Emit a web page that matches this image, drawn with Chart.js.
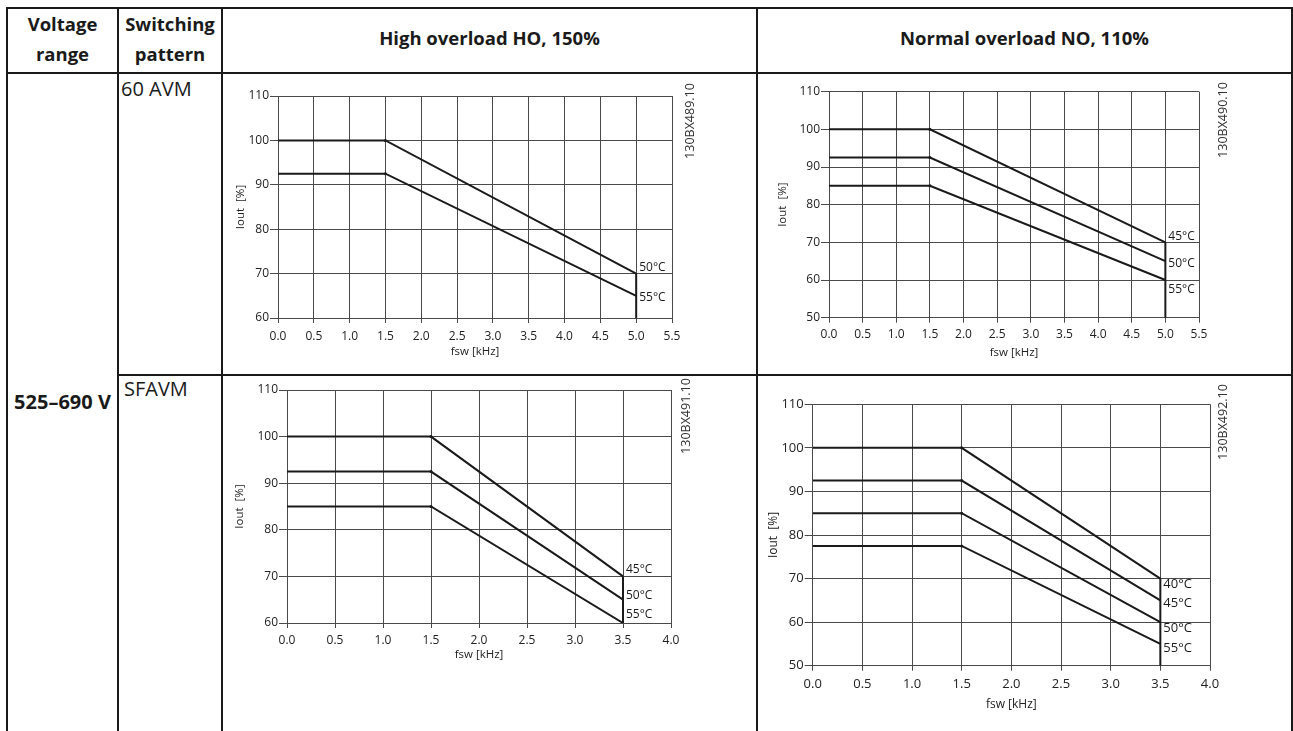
<!DOCTYPE html>
<html>
<head>
<meta charset="utf-8">
<script src="https://cdn.jsdelivr.net/npm/chart.js@4/dist/chart.umd.min.js"></script>
<style>
    body { margin: 0; width: 1293px; height: 731px; overflow: hidden; background: #fff; position: relative;
           font-family: "Open Sans", sans-serif; color: #1a1a1a; }
    .h, .v { position: absolute; background: #1a1a1a; }
    .h { height: 2px; }
    .v { width: 2px; }
    .t { position: absolute; white-space: nowrap; }
    .hd { font-weight: bold; font-size: 18.5px; line-height: 30px; text-align: center; }
    .cell { font-size: 20px; line-height: 24px; }
    canvas { position: absolute; }
    .id { position: absolute; font-size: 12.5px; line-height: 14px; width: 90px; text-align: center;
          transform: rotate(-90deg); color: #333; white-space: nowrap; }
</style>
</head>
<body>
<!-- table grid -->
<div class="h" style="left:7px;top:7px;width:1287px"></div>
<div class="h" style="left:7px;top:72px;width:1287px"></div>
<div class="h" style="left:118px;top:374px;width:1176px"></div>
<div class="v" style="left:6px;top:7px;height:724px"></div>
<div class="v" style="left:117px;top:7px;height:724px"></div>
<div class="v" style="left:221px;top:7px;height:724px"></div>
<div class="v" style="left:756px;top:7px;height:724px"></div>
<div class="v" style="left:1291px;top:7px;height:724px"></div>

<div class="t hd" style="left:7px;top:9px;width:111px">Voltage<br>range</div>
<div class="t hd" style="left:118px;top:9px;width:104px">Switching<br>pattern</div>
<div class="t hd" style="left:222px;top:23px;width:535px">High overload HO, 150%</div>
<div class="t hd" style="left:757px;top:23px;width:535px">Normal overload NO, 110%</div>

<div class="t cell" style="left:121px;top:77px">60 AVM</div>
<div class="t cell" style="left:124px;top:377px">SFAVM</div>
<div class="t cell" style="left:7px;top:389.5px;width:111px;text-align:center;font-weight:bold">525–690 V</div>

<canvas id="hoAvm" width="531" height="298" style="left:224px;top:75px"></canvas>
<canvas id="noAvm" width="531" height="298" style="left:759px;top:75px"></canvas>
<canvas id="hoSfavm" width="531" height="354" style="left:224px;top:377px"></canvas>
<canvas id="noSfavm" width="531" height="354" style="left:759px;top:377px"></canvas>

<div class="id" style="left:645px;top:114px">130BX489.10</div>
<div class="id" style="left:1178px;top:113px">130BX490.10</div>
<div class="id" style="left:641px;top:409px">130BX491.10</div>
<div class="id" style="left:1178px;top:415px">130BX492.10</div>

<script>
// switching frequency breakpoints [kHz]
const avmFsw = [0, 1.5, 5.0];
const sfavmFsw = [0, 1.5, 3.5];

// tick labels
const avmTicksX = [0, 0.5, 1.0, 1.5, 2.0, 2.5, 3.0, 3.5, 4.0, 4.5, 5.0, 5.5];
const sfavmTicksX = [0, 0.5, 1.0, 1.5, 2.0, 2.5, 3.0, 3.5, 4.0];
const ticksY60 = [60, 70, 80, 90, 100, 110];
const ticksY50 = [50, 60, 70, 80, 90, 100, 110];

// High overload, 60 AVM
const hoAvmTemps = ['50°C', '55°C'];
const hoAvm50 = [100, 100, 70];
const hoAvm55 = [92.5, 92.5, 65];
const hoAvmCutoff = [70, 60];

// Normal overload, 60 AVM
const noAvmTemps = ['45°C', '50°C', '55°C'];
const noAvm45 = [100, 100, 70];
const noAvm50 = [92.5, 92.5, 65];
const noAvm55 = [85, 85, 60];
const noAvmCutoff = [70, 50];

// High overload, SFAVM
const hoSfavmTemps = ['45°C', '50°C', '55°C'];
const hoSfavm45 = [100, 100, 70];
const hoSfavm50 = [92.5, 92.5, 65];
const hoSfavm55 = [85, 85, 60];
const hoSfavmCutoff = [70, 60];

// Normal overload, SFAVM
const noSfavmTemps = ['40°C', '45°C', '50°C', '55°C'];
const noSfavm40 = [100, 100, 70];
const noSfavm45 = [92.5, 92.5, 65];
const noSfavm50 = [85, 85, 60];
const noSfavm55 = [77.5, 77.5, 55];
const noSfavmCutoff = [70, 50];

const FONT = '"Open Sans", sans-serif';
const INK = '#1a1a1a';
const GRID = '#4a4a4a';

// draws the temperature label next to the end of each curve
const tempLabels = {
    id: 'tempLabels',
    afterDatasetsDraw(chart, args, opts) {
        const { ctx, scales: { x, y } } = chart;
        ctx.save();
        ctx.font = `${opts.size}px ${FONT}`;
        ctx.fillStyle = INK;
        ctx.textBaseline = 'middle';
        ctx.textAlign = 'left';
        opts.temps.forEach((t, i) => {
            const ds = chart.data.datasets[i].data;
            const last = ds[ds.length - 1];
            ctx.fillText(t, x.getPixelForValue(last.x) + 3, y.getPixelForValue(last.y) + opts.dy[i]);
        });
        ctx.restore();
    }
};

function makeChart(id, fsw, series, temps, cutoff, ticksX, ticksY, frame, dy) {
    const { cv, pa, yTitleX, xLabelY, xTitleY, fs, ts } = frame;
    const lh = fs * 1.2;
    const titleLh = ts * 1.2;
    const padLeft = yTitleX - cv.x - titleLh / 2;
    const yWidth = pa.l - cv.x - padLeft;
    const xHeight = xTitleY - pa.b + titleLh / 2;
    const padBottom = cv.y + cv.h - pa.b - xHeight;
    const xTickPad = xLabelY - pa.b - 5 - lh / 2;
    const last = fsw[fsw.length - 1];

    const datasets = series.map(vals => ({
        data: fsw.map((f, i) => ({ x: f, y: vals[i] })),
        borderColor: INK,
        backgroundColor: INK,
        borderWidth: 2,
        pointRadius: c => (c.dataIndex === 1 ? 1.5 : 0),
        pointBorderWidth: 0,
        tension: 0
    }));
    datasets.push({
        data: cutoff.map(v => ({ x: last, y: v })),
        borderColor: INK,
        borderWidth: 2,
        pointRadius: 0
    });

    return new Chart(document.getElementById(id), {
        type: 'line',
        data: { datasets },
        plugins: [tempLabels],
        options: {
            responsive: false,
            animation: false,
            layout: { padding: { left: padLeft, top: pa.t - cv.y, right: cv.x + cv.w - pa.r, bottom: padBottom } },
            plugins: {
                legend: { display: false },
                tooltip: { enabled: false },
                tempLabels: { temps, dy, size: fs }
            },
            scales: {
                x: {
                    type: 'linear',
                    min: ticksX[0],
                    max: ticksX[ticksX.length - 1],
                    afterBuildTicks: s => { s.ticks = ticksX.map(v => ({ value: v })); },
                    afterFit: s => { s.height = xHeight; },
                    grid: { color: GRID, lineWidth: 1, tickLength: 5, tickColor: GRID },
                    border: { color: GRID, width: 1 },
                    ticks: {
                        font: { family: FONT, size: fs },
                        color: '#222',
                        padding: xTickPad,
                        maxRotation: 0,
                        callback: v => v.toFixed(1)
                    },
                    title: {
                        display: true,
                        text: 'fsw [kHz]',
                        font: { family: FONT, size: ts },
                        color: '#222',
                        padding: 0
                    }
                },
                y: {
                    min: ticksY[0],
                    max: ticksY[ticksY.length - 1],
                    afterBuildTicks: s => { s.ticks = ticksY.map(v => ({ value: v })); },
                    afterFit: s => { s.width = yWidth; },
                    grid: { color: GRID, lineWidth: 1, tickLength: 8, tickColor: GRID },
                    border: { color: GRID, width: 1 },
                    ticks: {
                        font: { family: FONT, size: fs },
                        color: '#222',
                        padding: 1
                    },
                    title: {
                        display: true,
                        text: 'Iout  [%]',
                        font: { family: FONT, size: ts },
                        color: '#222',
                        padding: 0
                    }
                }
            }
        }
    });
}

makeChart('hoAvm', avmFsw, [hoAvm50, hoAvm55], hoAvmTemps, hoAvmCutoff, avmTicksX, ticksY60, {
    cv: { x: 224, y: 75, w: 531, h: 298 },
    pa: { l: 278, t: 96, r: 672, b: 318 },
    yTitleX: 240.7, xLabelY: 336.7, xTitleY: 351.7, fs: 12, ts: 11.5
}, [-6, 2]);

makeChart('noAvm', avmFsw, [noAvm45, noAvm50, noAvm55], noAvmTemps, noAvmCutoff, avmTicksX, ticksY50, {
    cv: { x: 759, y: 75, w: 531, h: 298 },
    pa: { l: 829, t: 91.7, r: 1199, b: 317.7 },
    yTitleX: 783, xLabelY: 335, xTitleY: 352.7, fs: 12, ts: 11.5
}, [-6, 2.5, 10]);

makeChart('hoSfavm', sfavmFsw, [hoSfavm45, hoSfavm50, hoSfavm55], hoSfavmTemps, hoSfavmCutoff, sfavmTicksX, ticksY60, {
    cv: { x: 224, y: 377, w: 531, h: 354 },
    pa: { l: 287, t: 390, r: 671, b: 623 },
    yTitleX: 239.3, xLabelY: 640.7, xTitleY: 655, fs: 12, ts: 11.5
}, [-7, -4, -8]);

makeChart('noSfavm', sfavmFsw, [noSfavm40, noSfavm45, noSfavm50, noSfavm55], noSfavmTemps, noSfavmCutoff, sfavmTicksX, ticksY50, {
    cv: { x: 759, y: 377, w: 531, h: 354 },
    pa: { l: 812.7, t: 404.3, r: 1210, b: 665.7 },
    yTitleX: 773.3, xLabelY: 684, xTitleY: 704.3, fs: 13, ts: 12
}, [6, 3, 6, 4]);
</script>
</body>
</html>
